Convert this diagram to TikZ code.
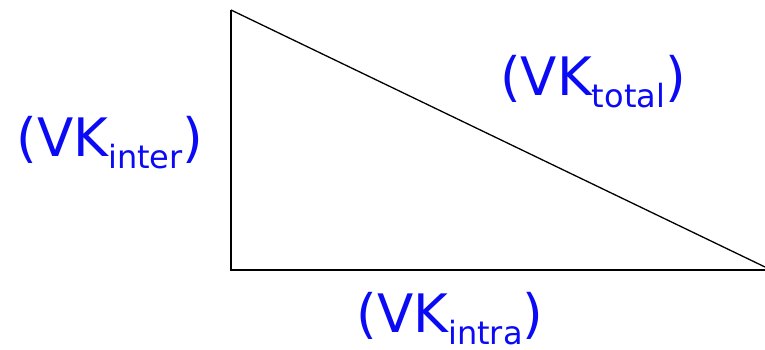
\documentclass[tikz,border=0pt]{standalone}
\usepackage{fontspec}
\setmainfont{DejaVu Sans}
\definecolor{lblue}{RGB}{10,10,245}
\newcommand{\vklabel}[1]{(VK\raisebox{-12pt}{\fontsize{32}{32}\selectfont #1})}
\begin{document}
\begin{tikzpicture}[x=1pt,y=-1pt,
  lbl/.style={text=lblue,font=\fontsize{53}{53}\selectfont,anchor=base,inner sep=0pt},
  edge/.style={draw=black,line width=1.3pt}]
\useasboundingbox (0,0) rectangle (765,350);
\coordinate (top) at (231,10);
\coordinate (bl) at (231,270);
\coordinate (br) at (765,267);
\coordinate (be) at (765,270);
\draw[edge] (top) -- (bl) -- (be);
\draw[edge] (top) -- (br);
\node[lbl] (inter) at (110,156) {\vklabel{inter}};
\node[lbl] (total) at (593,96) {\vklabel{total}};
\node[lbl] (intra) at (450,332) {\vklabel{intra}};
\end{tikzpicture}
\end{document}
